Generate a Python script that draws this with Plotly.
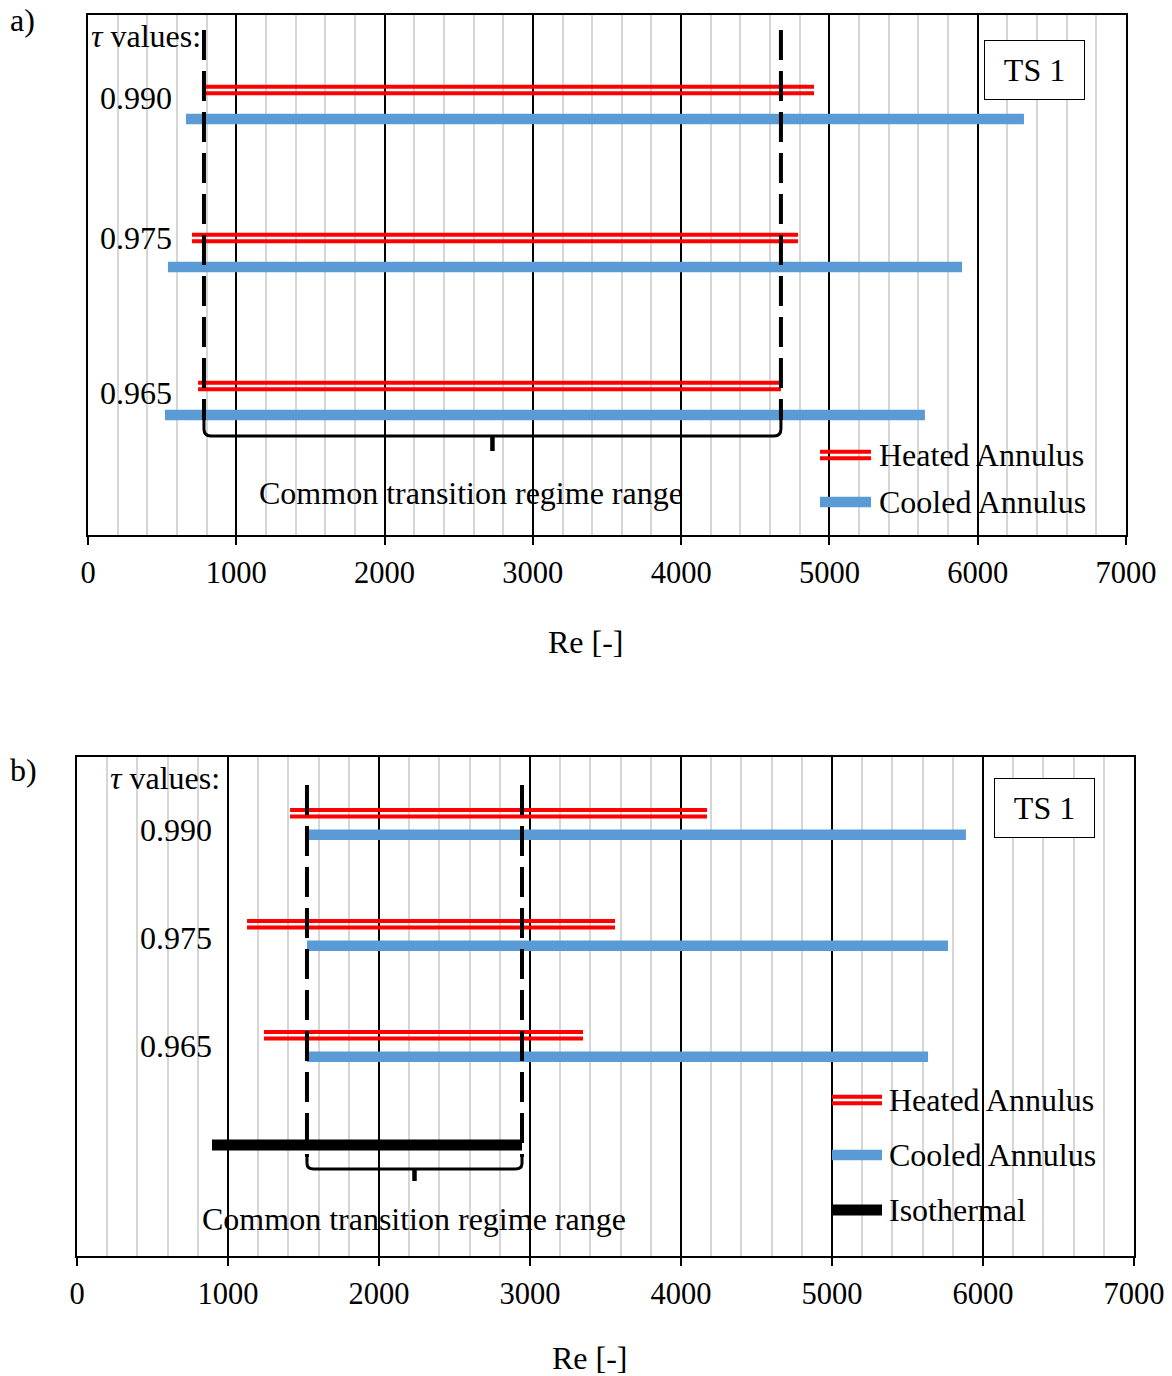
import plotly.graph_objects as go

# ---------------- data ----------------
tau_labels = ["0.990", "0.975", "0.965"]

# panel a)  Re ranges of the transition regime
a_heated_start = [782, 701, 742]
a_heated_end = [4896, 4788, 4673]
a_cooled_start = [661, 539, 519]
a_cooled_end = [6312, 5894, 5644]

# panel b)
b_heated_start = [1411, 1126, 1238]
b_heated_end = [4172, 3563, 3351]
b_cooled_start = [1523, 1523, 1523]
b_cooled_end = [5887, 5768, 5636]
b_iso_start = [894]
b_iso_end = [2947]

x_ticks = [0, 1000, 2000, 3000, 4000, 5000, 6000, 7000]

# ---------------- layout helpers ----------------
W, H = 1172, 1376
FONT = "Liberation Serif"
RED = "#FF0000"
BLUE = "#5B9BD5"


def px(x):
    return x / W


def py(y):
    return 1 - y / H


fig = go.Figure()

# panel geometry (pixels)
A = dict(x0=88, x1=1126, y0=15, y1=535, row0=104.5, scale=148.0, off=14.5)
B = dict(x0=77, x1=1134, y0=757, y1=1256, row0=824.0, scale=111.0, off=10.75)


def u(P, ypix):
    """convert a pixel y inside panel to row units"""
    return (ypix - P["row0"]) / P["scale"]


def add_range(xs, xe, yv, color, width, xa, ya, name):
    fig.add_trace(go.Scatter(x=[xs, xe], y=[yv, yv], mode="lines",
                             line=dict(color=color, width=width),
                             xaxis=xa, yaxis=ya, showlegend=False,
                             hoverinfo="skip", name=name))


def draw_panel(P, hs, he, cs, ce, xa, ya, iso=None):
    off = P["off"] / P["scale"]
    dbl = 3.15 / P["scale"]
    for i in range(len(tau_labels)):
        yh = i - off
        yc = i + off
        add_range(hs[i], he[i], yh - dbl, RED, 4, xa, ya, "Heated")
        add_range(hs[i], he[i], yh + dbl, RED, 4, xa, ya, "Heated")
        add_range(cs[i], ce[i], yc, BLUE, 10.5, xa, ya, "Cooled")
    starts = hs + cs
    ends = he + ce
    if iso is not None:
        ist, ien, iy = iso
        for s, e in zip(ist, ien):
            add_range(s, e, iy, "black", 11, xa, ya, "Isothermal")
        starts = starts + ist
        ends = ends + ien
    return max(starts), min(ends)


lo_a, hi_a = draw_panel(A, a_heated_start, a_heated_end, a_cooled_start,
                        a_cooled_end, "x", "y")
iso_row = u(B, 1145)
lo_b, hi_b = draw_panel(B, b_heated_start, b_heated_end, b_cooled_start,
                        b_cooled_end, "x2", "y2",
                        iso=(b_iso_start, b_iso_end, iso_row))

shapes = []


def bracket(P, lo, hi, xref, yref, ytop_px, ycorner_px, ybot_px, ytick_px):
    ytop = u(P, ytop_px)
    yc = u(P, ycorner_px)
    yb = u(P, ybot_px)
    yt = u(P, ytick_px)
    for xv in (lo, hi):
        shapes.append(dict(type="line", xref=xref, yref=yref, x0=xv, x1=xv,
                           y0=ytop, y1=yc,
                           line=dict(color="black", width=4, dash="30px,11px")))
    r = 45
    mid = (lo + hi) / 2
    path = (f"M {lo},{yc} L {lo},{yb - (yb - yc) * 0.45} Q {lo},{yb} {lo + r},{yb} "
            f"L {hi - r},{yb} Q {hi},{yb} {hi},{yb - (yb - yc) * 0.45} L {hi},{yc}")
    shapes.append(dict(type="path", xref=xref, yref=yref, path=path,
                       line=dict(color="black", width=3)))
    shapes.append(dict(type="line", xref=xref, yref=yref, x0=mid, x1=mid,
                       y0=yb, y1=yt, line=dict(color="black", width=4.5)))


bracket(A, lo_a, hi_a, "x", "y", 30, 420, 436, 451)
bracket(B, lo_b, hi_b, "x2", "y2", 785, 1157, 1169, 1181)


# legend samples (paper coords)
def leg_double(x0, x1, yc):
    for d in (-3.15, 3.15):
        shapes.append(dict(type="line", xref="paper", yref="paper",
                           x0=px(x0), x1=px(x1), y0=py(yc + d), y1=py(yc + d),
                           line=dict(color=RED, width=4)))


def leg_single(x0, x1, yc, color, w):
    shapes.append(dict(type="line", xref="paper", yref="paper",
                       x0=px(x0), x1=px(x1), y0=py(yc), y1=py(yc),
                       line=dict(color=color, width=w)))


leg_double(820, 871, 455)
leg_single(820, 871, 502, BLUE, 10.5)
leg_double(832, 882, 1100)
leg_single(832, 882, 1155, BLUE, 10.5)
leg_single(832, 882, 1210, "black", 11)

ann = []


def text(t, x, y, xanchor="left", size=32, **kw):
    ann.append(dict(text=t, x=px(x), y=py(y), xref="paper", yref="paper",
                    xanchor=xanchor, yanchor="middle", showarrow=False,
                    font=dict(family=FONT, size=size, color="black"), **kw))


text("a)", 8, 20)
text("b)", 8, 770)
# panel a texts
text("<i>τ</i> values:", 89, 36)
for lab, yy in zip(tau_labels, [98, 238, 393]):
    text(lab, 174, yy, xanchor="right")
text("Common transition regime range", 471, 493, xanchor="center")
text("Heated Annulus", 877, 455)
text("Cooled Annulus", 877, 502)
text("Re [-]", 586, 642, xanchor="center")
text("TS 1", 1034, 70, xanchor="center", width=99, height=58,
     bordercolor="black", borderwidth=1, borderpad=0, bgcolor="white")
# panel b texts
text("<i>τ</i> values:", 222, 778, xanchor="right")
for lab, yy in zip(tau_labels, [830, 938, 1046]):
    text(lab, 214, yy, xanchor="right")
text("Common transition regime range", 414, 1219, xanchor="center")
text("Heated Annulus", 887, 1100)
text("Cooled Annulus", 887, 1155)
text("Isothermal", 887, 1210)
text("Re [-]", 590, 1358, xanchor="center")
text("TS 1", 1044, 808, xanchor="center", width=99, height=58,
     bordercolor="black", borderwidth=1, borderpad=0, bgcolor="white")

xcommon = dict(range=[0, 7000], tickvals=x_ticks, ticktext=[str(v) for v in x_ticks],
               showgrid=True, gridcolor="black", gridwidth=1.5,
               minor=dict(dtick=200, tick0=0, showgrid=True, gridcolor="#D6D6D6",
                          gridwidth=2, ticks=""),
               ticks="outside", ticklen=8, tickwidth=1.5, tickcolor="black",
               showline=True, linecolor="black", linewidth=2, mirror=True,
               zeroline=False, ticklabelstandoff=1, automargin=False,
               tickfont=dict(family=FONT, size=30.5, color="black"), fixedrange=True)
ycommon = dict(showgrid=False, zeroline=False, showticklabels=False, ticks="",
               showline=True, linecolor="black", linewidth=2, mirror=True,
               automargin=False, fixedrange=True)

fig.update_layout(
    template="none",
    width=W, height=H, autosize=False, margin=dict(l=0, r=0, t=0, b=0, pad=0),
    paper_bgcolor="white", plot_bgcolor="white", showlegend=False,
    xaxis=dict(domain=[px(A["x0"]), px(A["x1"])], anchor="y", **xcommon),
    yaxis=dict(domain=[py(A["y1"]), py(A["y0"])], anchor="x",
               range=[u(A, A["y1"]), u(A, A["y0"])], **ycommon),
    xaxis2=dict(domain=[px(B["x0"]), px(B["x1"])], anchor="y2", **xcommon),
    yaxis2=dict(domain=[py(B["y1"]), py(B["y0"])], anchor="x2",
                range=[u(B, B["y1"]), u(B, B["y0"])], **ycommon),
    shapes=shapes, annotations=ann,
)

fig.write_html("out.html")
